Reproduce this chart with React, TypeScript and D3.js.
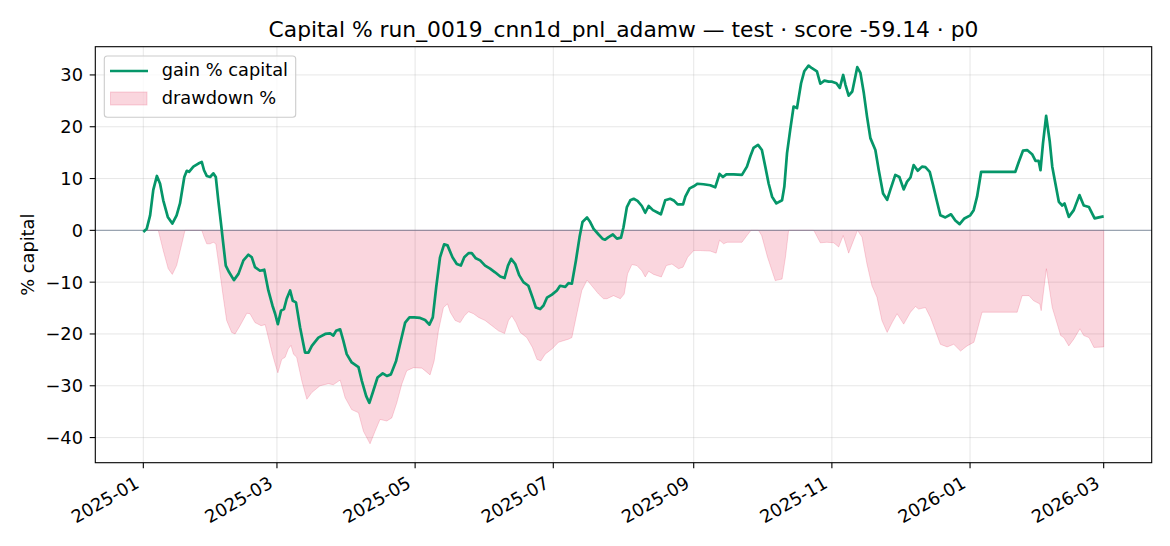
import React, { useRef, useEffect } from "react";
import * as d3 from "d3";

// day offsets from 2025-01-01 and gain % of capital
const gainDays = [
  0, 1.5, 3, 4.4, 6, 7.4, 8.8, 10.8, 12.8, 14.7, 16.2, 18.1, 19.2, 20.2, 22.1, 24.3, 25.8, 26.8, 28, 29.5,
  30.9, 32, 33.1, 34.3, 35.3, 36.4, 37.9, 40, 42, 44.2, 46.4, 47.9, 49.3, 51.5, 53.4, 55.2, 57, 58.2, 59.4, 60.8,
  62.1, 63.3, 64.8, 66, 67.4, 69.2, 71.4, 72.9, 74.4, 77.3, 80.3, 82.5, 83.9, 85.1, 86.9, 88.3, 89.8, 92, 95, 96.5,
  98.4, 99.8, 101.3, 103.4, 105.7, 107.5, 109.3, 111.6, 113.7, 115.6, 117.5, 119.6, 122.2, 124.4, 126.3, 127.8, 129.3, 131, 132.8, 134.3,
  136.5, 138.4, 140.2, 141.7, 143.6, 145, 146.8, 148.7, 150.9, 153.1, 155.3, 157.6, 159.5, 161, 162.4, 164.2, 166, 167.8, 170, 171.8,
  173.3, 175.2, 176.7, 178.2, 180.4, 182.6, 184, 186.3, 187.7, 189.2, 191, 192.6, 193.9, 195.9, 197.3, 198.8, 201, 202.7, 203.9, 205.4,
  207.3, 209.1, 210.9, 212, 213.5, 215, 216.5, 218.2, 220.1, 221.6, 223.1, 225, 226.8, 228.5, 230.4, 232.6, 234.4, 235.9, 238.3, 239.3,
  241.2, 243, 244.7, 247.3, 250.3, 252.5, 254.4, 255.9, 257.4, 260.6, 264.3, 266.5, 268, 269.4, 271.4, 273.1, 274.6, 276.1, 277.6, 279.5,
  282, 283, 284.2, 285.6, 287.1, 288.6, 290.4, 291.8, 293.7, 295.2, 297.4, 298.9, 300.7, 302.6, 304.1, 306, 307.5, 309, 310, 311.4,
  313, 315.2, 316.6, 318.1, 319.5, 321, 323.2, 324.7, 326.6, 328.4, 329.8, 332, 333.8, 335.7, 337.2, 338.7, 340.1, 341.9, 343.8, 345.3,
  347.2, 348.7, 350.1, 351.9, 354.1, 356.6, 358.5, 360.4, 362.5, 365.1, 366.6, 368.1, 369.9, 385, 386.5, 388.4, 390.2, 392.4, 393.9, 395.3,
  396.1, 397.2, 398.6, 400.2, 401.3, 402.7, 404.2, 405.7, 406.7, 408.6, 410.8, 413.3, 415.2, 417.5, 420, 421.9, 424,
];
const gainPct = [
  -0.3, 0.3, 2.9, 7.8, 10.5, 9, 5.8, 2.6, 1.3, 2.9, 5.2, 10.3, 11.5, 11.3, 12.3, 12.9, 13.2, 11.6, 10.5, 10.3,
  11, 10.3, 5.8, 1.3, -2.6, -6.8, -8.1, -9.6, -8.4, -5.8, -4.7, -5.2, -7.1, -7.8, -7.6, -11.6, -14.5, -16.1, -18.1, -15.5,
  -15.2, -13.2, -11.6, -13.6, -13.9, -18.7, -23.6, -23.6, -22.3, -20.7, -20, -19.9, -20.3, -19.4, -19.1, -21.3, -23.9, -25.5, -26.4, -29.1,
  -32, -33.3, -31.3, -28.4, -27.6, -28.1, -27.8, -25.2, -21.3, -17.8, -16.8, -16.8, -16.9, -17.3, -18.2, -16.8, -11, -5.2, -2.7, -2.9,
  -5.2, -6.5, -6.8, -5.2, -4.4, -4.4, -5.4, -5.8, -6.8, -7.4, -8.1, -8.9, -9.2, -6.8, -5.5, -6.5, -8.7, -10, -10.7, -12.9,
  -14.9, -15.2, -14.5, -13, -12.4, -11.6, -10.7, -10.9, -10.2, -10.3, -5.8, -1.3, 1.6, 2.5, 1.6, 0.3, -0.8, -1.6, -1.8, -1.3,
  -0.8, -1.6, -1.4, 0.6, 4.5, 5.8, 6.1, 5.7, 4.7, 3.4, 4.7, 3.9, 3.5, 3.1, 5.8, 6.1, 5.7, 5, 5, 6.5,
  8.1, 8.5, 9, 8.9, 8.7, 8.3, 10.9, 10.3, 10.8, 10.8, 10.7, 12.3, 14.3, 15.9, 16.5, 15.5, 12.3, 9, 6.5, 5.2,
  5.8, 8.4, 14.9, 19.4, 23.9, 23.6, 28.4, 30.7, 31.8, 31.3, 30.7, 28.3, 28.9, 28.7, 28.7, 28.4, 27.5, 30, 28.1, 26,
  26.8, 31.5, 30.4, 26.5, 22, 17.8, 15.5, 11.6, 7.1, 5.9, 7.8, 10.7, 10.3, 7.9, 9.4, 10.2, 12.6, 11.5, 12.3, 12.2,
  11.3, 8.7, 6.1, 2.9, 2.5, 3.1, 1.9, 1.2, 2.3, 2.9, 3.9, 6.5, 11.3, 11.3, 13.2, 15.4, 15.5, 14.7, 13.4, 13.4,
  11.6, 16.8, 22.1, 17.1, 12.3, 9, 5.5, 4.8, 5.2, 2.6, 3.9, 6.8, 4.8, 4.5, 2.3, 2.5, 2.7,
];

// drawdown % (from running peak)
const ddDays = [
  0, 6.6, 8.8, 11, 12.8, 14.7, 17, 18.4, 25.8, 26.8, 28, 29.5, 30.9, 32, 33.9, 35.3, 36.8, 39, 40.5, 42.7,
  45.7, 47.1, 49.3, 52, 53.8, 55.2, 57, 58.2, 59.4, 61.1, 62.6, 64, 65.2, 66.3, 67.7, 70, 72.2, 74.4, 78, 81.7,
  83.9, 86.9, 89.1, 92, 95, 97.2, 100.1, 102.3, 104.5, 107.5, 109.7, 111.9, 114.1, 116.3, 119.3, 123, 126.6, 128.4, 130.3, 132.5,
  134.3, 135.5, 137.7, 139.9, 141.8, 143.6, 145.8, 148, 150.9, 153.9, 156.8, 159.5, 161.2, 162.7, 164.5, 166.4, 169.3, 171.8, 173.8, 175.5,
  177.4, 180.4, 183.3, 185.5, 187.7, 189.2, 191.4, 193.6, 195.9, 198, 201, 203.2, 204.7, 207.6, 210.6, 212.3, 213.8, 215.7, 217.9, 220.1,
  221.6, 223.1, 225.3, 228.7, 230.9, 233.4, 236.3, 238.3, 240.3, 243, 245.9, 250.3, 252.9, 254.4, 256.2, 257.7, 264.3, 266.5, 268.3, 271.6,
  273, 275.6, 279, 282, 283.5, 284.9, 296, 298.9, 301.8, 304.8, 307, 309, 311.4, 313.6, 315.3, 317.3, 319.5, 321.7, 323.9, 326.1,
  328.4, 330.6, 332.8, 335.7, 338.7, 340.9, 342.3, 345.3, 347.5, 349.7, 351.9, 354.9, 357.8, 360.8, 363.7, 366.7, 368.1, 370.3, 385.8, 388,
  391, 393.1, 395.8, 396.4, 398.7, 401.3, 403.5, 405, 406.4, 408.6, 410.8, 413.5, 415.2, 417.5, 419.7, 424,
];
const ddPct = [
  0, 0, -3.9, -7.4, -8.5, -6.8, -2.6, 0, 0, -1.3, -2.6, -2.6, -2.3, -2.6, -8.4, -12.9, -17.4, -19.7, -20, -18.4,
  -16, -16.1, -17.8, -18.4, -18.2, -20.7, -23.9, -25.8, -27.5, -24.9, -24.5, -22.9, -22.2, -23.9, -24.5, -29.1, -32.6, -31.3, -30, -29.6,
  -29.8, -28.9, -32.3, -34.6, -35.2, -38.8, -41.2, -38.8, -36.5, -36.8, -36.2, -33.3, -29.7, -27.1, -26.5, -26.6, -27.9, -25.2, -19.4, -14.9,
  -14.2, -15.8, -17.4, -17.8, -16.5, -15.7, -16.1, -16.8, -17.4, -18.4, -19.4, -19.9, -17.4, -16.5, -17.8, -19.7, -20.7, -22.6, -24.9, -25.2,
  -23.9, -22.9, -21.6, -21.3, -21, -20.7, -16.1, -11.6, -9.6, -10.7, -12.3, -13.2, -13.2, -12.6, -13.2, -12.3, -8.4, -6.6, -6.8, -7.8,
  -9, -7.9, -8.5, -9, -6.8, -6.5, -7.4, -7.1, -5.2, -3.9, -3.9, -4, -4.4, -1.9, -2.6, -2.3, -2.3, -1, 0, 0,
  -1, -5.2, -9.7, -9.4, -5.2, 0, 0, -2.4, -2.3, -2.4, -3.2, -1, -4.4, -1.9, 0, -1.3, -6.5, -10.7, -12.9, -17.4,
  -19.7, -17.8, -16.1, -18.1, -15.8, -14.7, -15.2, -14.9, -16.8, -19.4, -22, -22.5, -22, -23.3, -22.3, -21.6, -19.4, -15.8, -15.8, -12.6,
  -12.6, -13.6, -14.2, -15.5, -7.4, -14.9, -18.1, -20.3, -20.7, -22.3, -21, -19, -20.3, -20.7, -22.6, -22.5,
];

const xTickLabels = ["2025-01", "2025-03", "2025-05", "2025-07", "2025-09", "2025-11", "2026-01", "2026-03"];
const yTicks = [-40, -30, -20, -10, 0, 10, 20, 30];

const GREEN = "#059669";
const RED = "#e11d48";
const FONT = "DejaVu Sans, Verdana, sans-serif";
const TICK_FS = "17.8px";

export default function App() {
  const ref = useRef<SVGSVGElement>(null);

  useEffect(() => {
    if (!ref.current) return;
    const svg = d3.select(ref.current);
    svg.selectAll("*").remove();

    const w = 1170;
    const h = 546;
    const margin = { top: 46.7, right: 1170 - 1151.7, bottom: 546 - 462.7, left: 95.3 };

    const start = Date.UTC(2025, 0, 1);
    const DAY = 86400000;
    const toDate = (d: number) => new Date(start + d * DAY);

    const gain = gainDays.map((d, i) => ({ date: toDate(d), v: gainPct[i] }));
    const dd = ddDays.map((d, i) => ({ date: toDate(d), v: ddPct[i] }));

    // matplotlib style 5% padding
    const [d0, d1] = d3.extent(gainDays) as [number, number];
    const xPad = (d1 - d0) * 0.05;
    const x = d3.scaleUtc()
      .domain([toDate(d0 - xPad), toDate(d1 + xPad)])
      .range([margin.left, w - margin.right]);

    const yMin = Math.min(d3.min(gainPct)!, d3.min(ddPct)!);
    const yMax = Math.max(d3.max(gainPct)!, d3.max(ddPct)!);
    const yPad = (yMax - yMin) * 0.05;
    const y = d3.scaleLinear()
      .domain([yMin - yPad, yMax + yPad])
      .range([h - margin.bottom, margin.top]);

    const xTicks = xTickLabels.map(s => {
      const [yy, mm] = s.split("-").map(Number);
      return new Date(Date.UTC(yy, mm - 1, 1));
    });

    const plot = svg.append("g");

    // grid
    plot.selectAll(".gx")
      .data(xTicks)
      .enter()
      .append("line")
      .attr("x1", d => x(d))
      .attr("x2", d => x(d))
      .attr("y1", margin.top)
      .attr("y2", h - margin.bottom)
      .attr("stroke", "#b0b0b0")
      .attr("stroke-opacity", 0.3)
      .attr("stroke-width", 1);
    plot.selectAll(".gy")
      .data(yTicks)
      .enter()
      .append("line")
      .attr("x1", margin.left)
      .attr("x2", w - margin.right)
      .attr("y1", d => y(d))
      .attr("y2", d => y(d))
      .attr("stroke", "#b0b0b0")
      .attr("stroke-opacity", 0.3)
      .attr("stroke-width", 1);

    // drawdown area
    const area = d3.area<{ date: Date; v: number }>()
      .x(d => x(d.date))
      .y0(y(0))
      .y1(d => y(d.v));
    plot.append("path")
      .datum(dd)
      .attr("d", area)
      .attr("fill", RED)
      .attr("fill-opacity", 0.18)
      .attr("stroke", RED)
      .attr("stroke-opacity", 0.18)
      .attr("stroke-width", 1);

    // zero line
    plot.append("line")
      .attr("x1", margin.left)
      .attr("x2", w - margin.right)
      .attr("y1", y(0))
      .attr("y2", y(0))
      .attr("stroke", "#64748b")
      .attr("stroke-opacity", 0.6)
      .attr("stroke-width", 1.1);

    // gain line
    const line = d3.line<{ date: Date; v: number }>()
      .x(d => x(d.date))
      .y(d => y(d.v));
    plot.append("path")
      .datum(gain)
      .attr("d", line)
      .attr("fill", "none")
      .attr("stroke", GREEN)
      .attr("stroke-width", 2.7)
      .attr("stroke-linejoin", "round");

    // frame
    svg.append("rect")
      .attr("x", margin.left)
      .attr("y", margin.top)
      .attr("width", w - margin.left - margin.right)
      .attr("height", h - margin.top - margin.bottom)
      .attr("fill", "none")
      .attr("stroke", "#000")
      .attr("stroke-width", 1.1);

    // x ticks
    const xt = svg.append("g");
    xTicks.forEach((d, i) => {
      const px = x(d);
      xt.append("line")
        .attr("x1", px).attr("x2", px)
        .attr("y1", h - margin.bottom).attr("y2", h - margin.bottom + 5.6)
        .attr("stroke", "#000").attr("stroke-width", 1.1);
      xt.append("text")
        .attr("transform", `translate(${px - 3},${h - margin.bottom + 24}) rotate(-30)`)
        .attr("text-anchor", "end")
        .style("font-family", FONT)
        .style("font-size", TICK_FS)
        .attr("fill", "#000")
        .text(xTickLabels[i]);
    });

    // y ticks
    const yt = svg.append("g");
    yTicks.forEach(v => {
      const py = y(v);
      yt.append("line")
        .attr("x1", margin.left - 5.6).attr("x2", margin.left)
        .attr("y1", py).attr("y2", py)
        .attr("stroke", "#000").attr("stroke-width", 1.1);
      yt.append("text")
        .attr("x", 83)
        .attr("y", py)
        .attr("dy", "0.36em")
        .attr("text-anchor", "end")
        .style("font-family", FONT)
        .style("font-size", TICK_FS)
        .attr("fill", "#000")
        .text(String(v).replace("-", "\u2212"));
    });

    // y label
    svg.append("text")
      .attr("transform", `translate(34,${(margin.top + h - margin.bottom) / 2}) rotate(-90)`)
      .attr("text-anchor", "middle")
      .style("font-family", FONT)
      .style("font-size", TICK_FS)
      .attr("fill", "#000")
      .text("% capital");

    // title
    svg.append("text")
      .attr("x", (margin.left + w - margin.right) / 2)
      .attr("y", 37)
      .attr("text-anchor", "middle")
      .style("font-family", FONT)
      .style("font-size", "21.8px")
      .attr("fill", "#000")
      .text("Capital % run_0019_cnn1d_pnl_adamw \u2014 test \u00b7 score -59.14 \u00b7 p0");

    // legend
    const lg = svg.append("g");
    lg.append("rect")
      .attr("x", 104.3).attr("y", 56)
      .attr("width", 191.4).attr("height", 61.3)
      .attr("rx", 3)
      .attr("fill", "#fff").attr("fill-opacity", 0.8)
      .attr("stroke", "#cccccc").attr("stroke-width", 1.1);
    lg.append("line")
      .attr("x1", 110).attr("x2", 148)
      .attr("y1", 71).attr("y2", 71)
      .attr("stroke", GREEN).attr("stroke-width", 2.7);
    lg.append("text")
      .attr("x", 161.7).attr("y", 76)
      .style("font-family", FONT).style("font-size", TICK_FS)
      .attr("fill", "#000")
      .text("gain % capital");
    lg.append("rect")
      .attr("x", 110.5).attr("y", 92)
      .attr("width", 36.5).attr("height", 13)
      .attr("fill", RED).attr("fill-opacity", 0.18)
      .attr("stroke", RED).attr("stroke-opacity", 0.18).attr("stroke-width", 1);
    lg.append("text")
      .attr("x", 161.7).attr("y", 104)
      .style("font-family", FONT).style("font-size", TICK_FS)
      .attr("fill", "#000")
      .text("drawdown %");
  }, []);

  return (
    <svg
      ref={ref}
      width={1170}
      height={546}
      style={{ position: "absolute", left: 0, top: 0, background: "#fff" }}
    />
  );
}
